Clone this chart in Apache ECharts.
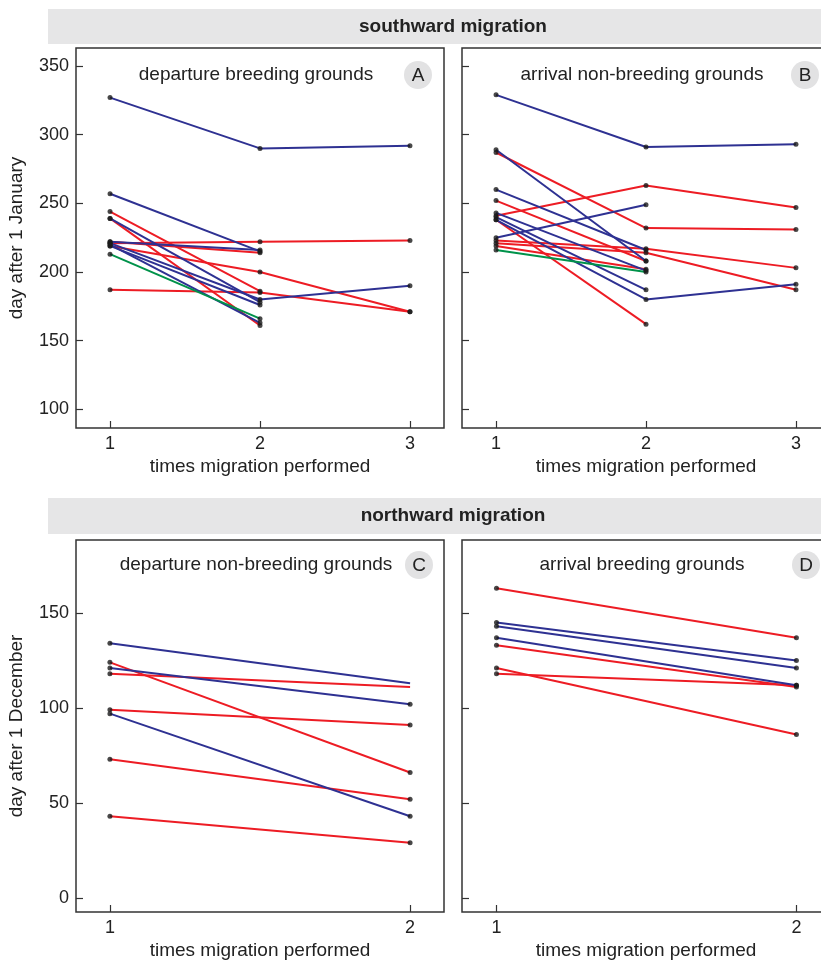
<!DOCTYPE html>
<html>
<head>
<meta charset="utf-8">
<script src="https://cdn.jsdelivr.net/npm/echarts@6/dist/echarts.min.js"></script>
<style>
  html, body { margin: 0; padding: 0; background: #fff; }
  #chart { width: 821px; height: 962px; }
</style>
</head>
<body>
<div id="chart"></div>
<script>
// values per individual: day at 1st, 2nd, 3rd migration
const southDepBlue = [[327, 290, 292], [257, 215], [239, 178], [222, 216], [221, 180, 190], [219, 176], [220, 163]]
const southDepRed = [[244, 186], [239, 161], [221, 222, 223], [222, 214], [219, 200, 171], [187, 185, 171]]
const southDepGreen = [[213, 166]]

const southArrBlue = [[329, 291, 293], [289, 208], [260, 216], [225, 249], [243, 201], [240, 187], [238, 180, 191]]
const southArrRed = [[287, 232, 231], [252, 208], [241, 263, 247], [223, 217, 203], [221, 214, 187], [219, 202], [238, 162]]
const southArrGreen = [[216, 200]]

const northDepBlue = [[134, 113], [121, 102], [97, 43]]
const northDepRed = [[124, 66], [118, 111], [99, 91], [73, 52], [43, 29]]
// end points drawn without a dot in the original
const northDepNoDot = [[2, 113], [2, 111]]

const northArrBlue = [[145, 125], [143, 121], [137, 112]]
const northArrRed = [[163, 137], [133, 111], [121, 86], [118, 112]]

const southTicks = [100, 150, 200, 250, 300, 350]
const northTicks = [0, 50, 100, 150]
const southTimes = [1, 2, 3]
const northTimes = [1, 2]

const BLUE = '#2e3192'
const RED = '#ed1c24'
const GREEN = '#00924a'
const AXIS = '#333'
const FONT = '"Liberation Sans", Arial, sans-serif'

const chart = echarts.init(document.getElementById('chart'))

// 线 + 点
const makeSeries = (groups, panel, noDot = []) => {
  const out = []
  const dots = []
  groups.forEach(([arrs, color]) => {
    arrs.forEach(vals => {
      const data = vals.map((v, i) => [i + 1, v])
      out.push({
        type: 'line',
        xAxisIndex: panel,
        yAxisIndex: panel,
        data,
        symbol: 'none',
        lineStyle: { color, width: 2 },
        z: 2,
        silent: true
      })
      data.forEach(p => {
        if (!noDot.some(q => q[0] === p[0] && q[1] === p[1])) dots.push(p)
      })
    })
  })
  out.push({
    type: 'scatter',
    xAxisIndex: panel,
    yAxisIndex: panel,
    data: dots,
    symbolSize: 5,
    itemStyle: { color: '#1a1a1a' },
    z: 3,
    silent: true
  })
  return out
}

const xAxis = (gridIndex, min, max, ticks) => ({
  type: 'value',
  gridIndex,
  min,
  max,
  axisLine: { show: false, onZero: false },
  splitLine: { show: false },
  axisTick: { show: true, inside: true, length: 7, customValues: ticks, lineStyle: { color: AXIS, width: 1.2 } },
  axisLabel: { customValues: ticks, color: '#222', fontSize: 18, fontFamily: FONT, margin: 7 },
  name: 'times migration performed',
  nameLocation: 'middle',
  nameGap: 29,
  nameTextStyle: { color: '#222', fontSize: 19, fontFamily: FONT }
})

const yAxis = (gridIndex, min, max, ticks, name) => ({
  type: 'value',
  gridIndex,
  min,
  max,
  axisLine: { show: false, onZero: false },
  splitLine: { show: false },
  axisTick: { show: true, inside: true, length: 7, customValues: ticks, lineStyle: { color: AXIS, width: 1.2 } },
  axisLabel: { show: !!name, customValues: ticks, color: '#222', fontSize: 18, fontFamily: FONT, margin: 7 },
  name: name || '',
  nameLocation: 'middle',
  nameGap: 50,
  nameTextStyle: { color: '#222', fontSize: 19, fontFamily: FONT }
})

const grid = (left, top, height) => ({
  left, top, width: 368, height,
  outerBoundsMode: 'none',
  containLabel: false,
  show: true,
  borderColor: AXIS,
  borderWidth: 1.5,
  backgroundColor: 'transparent'
})

const textEl = (text, x, y, opts = {}) => ({
  type: 'text',
  z: 10,
  style: {
    text, x, y,
    align: 'center',
    verticalAlign: 'middle',
    fill: '#222',
    font: (opts.bold ? 'bold ' : '') + (opts.size || 19) + 'px ' + FONT
  }
})

const badge = (letter, cx, cy) => [
  { type: 'circle', z: 9, shape: { cx, cy, r: 14 }, style: { fill: '#e2e2e3' } },
  textEl(letter, cx, cy + 1)
]

const option = {
  animation: false,
  grid: [
    grid(76, 48, 380),
    grid(462, 48, 380),
    grid(76, 540, 372),
    grid(462, 540, 372)
  ],
  xAxis: [
    xAxis(0, 0.773, 3.227, southTimes),
    xAxis(1, 0.773, 3.227, southTimes),
    xAxis(2, 0.887, 2.113, northTimes),
    xAxis(3, 0.885, 2.112, northTimes)
  ],
  yAxis: [
    yAxis(0, 86.4, 363.1, southTicks, 'day after 1 January'),
    yAxis(1, 86.4, 363.1, southTicks),
    yAxis(2, -7.4, 188.4, northTicks, 'day after 1 December'),
    yAxis(3, -7.4, 188.4, northTicks)
  ],
  series: [
    ...makeSeries([[southDepRed, RED], [southDepBlue, BLUE], [southDepGreen, GREEN]], 0),
    ...makeSeries([[southArrRed, RED], [southArrBlue, BLUE], [southArrGreen, GREEN]], 1),
    ...makeSeries([[northDepRed, RED], [northDepBlue, BLUE]], 2, northDepNoDot),
    ...makeSeries([[northArrRed, RED], [northArrBlue, BLUE]], 3)
  ],
  graphic: [
    { type: 'rect', shape: { x: 48, y: 9, width: 810, height: 35 }, style: { fill: '#e6e6e7' } },
    textEl('southward migration', 453, 27, { bold: true, size: 19 }),
    { type: 'rect', shape: { x: 48, y: 498, width: 810, height: 36 }, style: { fill: '#e6e6e7' } },
    textEl('northward migration', 453, 516, { bold: true, size: 19 }),
    textEl('departure breeding grounds', 256, 75),
    textEl('arrival non-breeding grounds', 642, 75),
    textEl('departure non-breeding grounds', 256, 565),
    textEl('arrival breeding grounds', 642, 565),
    ...badge('A', 418, 75),
    ...badge('B', 805, 75),
    ...badge('C', 419, 565),
    ...badge('D', 806, 565)
  ]
}

chart.setOption(option)
</script>
</body>
</html>
